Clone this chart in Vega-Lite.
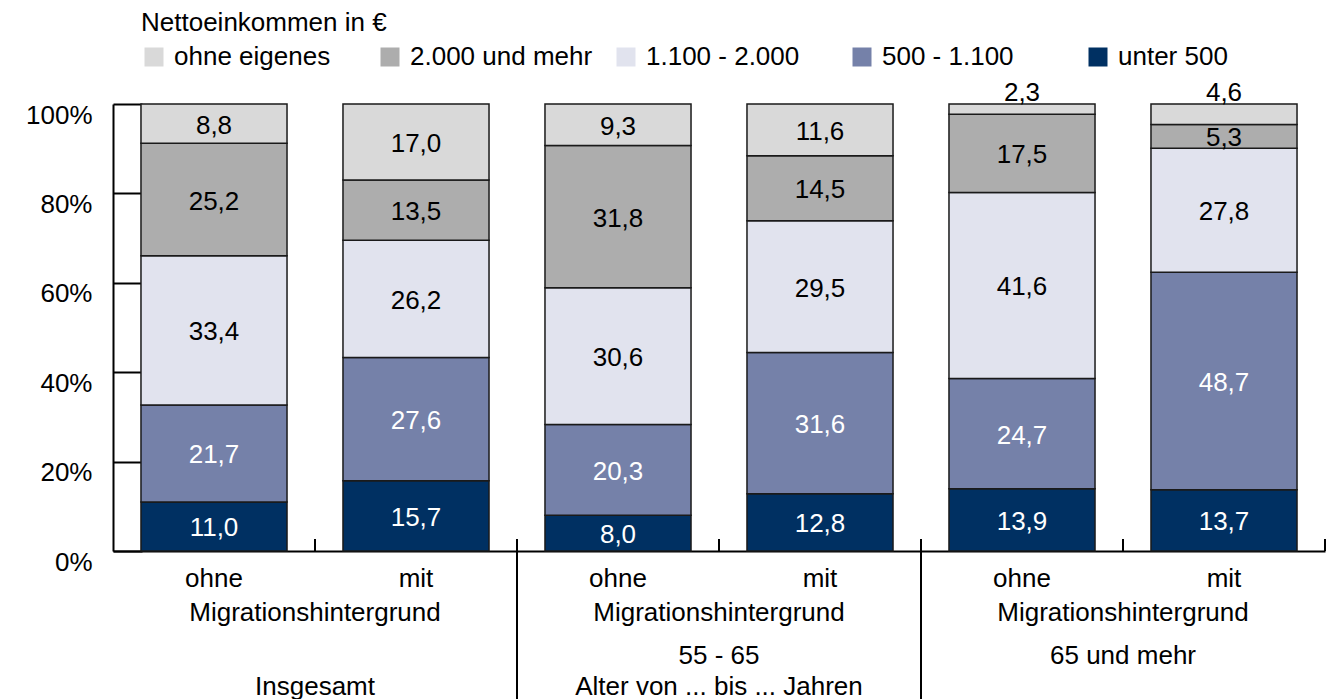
{
  "$schema": "https://vega.github.io/schema/vega-lite/v6.json",
  "width": 1212,
  "height": 447,
  "autosize": {"type": "none"},
  "padding": {"left": 113, "top": 104, "right": 13, "bottom": 148},
  "background": "#ffffff",
  "datasets": {
    "income": [
      {"group": "Insgesamt", "mig": "ohne", "cat": "unter 500", "value": 11.0},
      {"group": "Insgesamt", "mig": "ohne", "cat": "500 - 1.100", "value": 21.7},
      {"group": "Insgesamt", "mig": "ohne", "cat": "1.100 - 2.000", "value": 33.4},
      {"group": "Insgesamt", "mig": "ohne", "cat": "2.000 und mehr", "value": 25.2},
      {"group": "Insgesamt", "mig": "ohne", "cat": "ohne eigenes", "value": 8.8},
      {"group": "Insgesamt", "mig": "mit", "cat": "unter 500", "value": 15.7},
      {"group": "Insgesamt", "mig": "mit", "cat": "500 - 1.100", "value": 27.6},
      {"group": "Insgesamt", "mig": "mit", "cat": "1.100 - 2.000", "value": 26.2},
      {"group": "Insgesamt", "mig": "mit", "cat": "2.000 und mehr", "value": 13.5},
      {"group": "Insgesamt", "mig": "mit", "cat": "ohne eigenes", "value": 17.0},
      {"group": "55 - 65", "mig": "ohne", "cat": "unter 500", "value": 8.0},
      {"group": "55 - 65", "mig": "ohne", "cat": "500 - 1.100", "value": 20.3},
      {"group": "55 - 65", "mig": "ohne", "cat": "1.100 - 2.000", "value": 30.6},
      {"group": "55 - 65", "mig": "ohne", "cat": "2.000 und mehr", "value": 31.8},
      {"group": "55 - 65", "mig": "ohne", "cat": "ohne eigenes", "value": 9.3},
      {"group": "55 - 65", "mig": "mit", "cat": "unter 500", "value": 12.8},
      {"group": "55 - 65", "mig": "mit", "cat": "500 - 1.100", "value": 31.6},
      {"group": "55 - 65", "mig": "mit", "cat": "1.100 - 2.000", "value": 29.5},
      {"group": "55 - 65", "mig": "mit", "cat": "2.000 und mehr", "value": 14.5},
      {"group": "55 - 65", "mig": "mit", "cat": "ohne eigenes", "value": 11.6},
      {"group": "65 und mehr", "mig": "ohne", "cat": "unter 500", "value": 13.9},
      {"group": "65 und mehr", "mig": "ohne", "cat": "500 - 1.100", "value": 24.7},
      {"group": "65 und mehr", "mig": "ohne", "cat": "1.100 - 2.000", "value": 41.6},
      {"group": "65 und mehr", "mig": "ohne", "cat": "2.000 und mehr", "value": 17.5},
      {"group": "65 und mehr", "mig": "ohne", "cat": "ohne eigenes", "value": 2.3},
      {"group": "65 und mehr", "mig": "mit", "cat": "unter 500", "value": 13.7},
      {"group": "65 und mehr", "mig": "mit", "cat": "500 - 1.100", "value": 48.7},
      {"group": "65 und mehr", "mig": "mit", "cat": "1.100 - 2.000", "value": 27.8},
      {"group": "65 und mehr", "mig": "mit", "cat": "2.000 und mehr", "value": 5.3},
      {"group": "65 und mehr", "mig": "mit", "cat": "ohne eigenes", "value": 4.6}
    ],
    "separators": [
      {"group": "55 - 65"},
      {"group": "65 und mehr"}
    ],
    "captions": [
      {"group": "Insgesamt", "line": 1, "text": "Migrationshintergrund"},
      {"group": "55 - 65", "line": 1, "text": "Migrationshintergrund"},
      {"group": "65 und mehr", "line": 1, "text": "Migrationshintergrund"},
      {"group": "55 - 65", "line": 2, "text": "55 - 65"},
      {"group": "65 und mehr", "line": 2, "text": "65 und mehr"},
      {"group": "Insgesamt", "line": 3, "text": "Insgesamt"},
      {"group": "55 - 65", "line": 3, "text": "Alter von ... bis ... Jahren"}
    ]
  },
  "resolve": {"scale": {"x": "independent"}},
  "layer": [
    {
      "data": {"name": "income"},
      "transform": [
        {"calculate": "datum.group + '|' + datum.mig", "as": "bar"},
        {"calculate": "indexof(['unter 500', '500 - 1.100', '1.100 - 2.000', '2.000 und mehr', 'ohne eigenes'], datum.cat)", "as": "ord"},
        {"stack": "value", "groupby": ["bar"], "sort": [{"field": "ord", "order": "ascending"}], "offset": "normalize", "as": ["y0", "y1"]}
      ],
      "mark": {"type": "bar", "stroke": "#1a1a1a", "strokeWidth": 1.5},
      "encoding": {
        "x": {
          "field": "bar", "type": "nominal",
          "scale": {
            "domain": ["Insgesamt|ohne", "Insgesamt|mit", "55 - 65|ohne", "55 - 65|mit", "65 und mehr|ohne", "65 und mehr|mit"],
            "paddingInner": 0.277, "paddingOuter": 0.1385
          },
          "axis": {
            "title": null,
            "labelExpr": "split(datum.label, '|')[1]",
            "labelAngle": 0,
            "labelFontSize": 26,
            "labelColor": "#000000",
            "labelPadding": 14,
            "ticks": false,
            "domainColor": "#000000",
            "domainWidth": 2
          }
        },
        "y": {
          "field": "y0", "type": "quantitative",
          "scale": {"domain": [0, 1], "nice": false},
          "axis": {
            "title": null,
            "values": [0, 0.2, 0.4, 0.6, 0.8, 1],
            "format": ".0%",
            "grid": false,
            "labelFontSize": 26,
            "labelColor": "#000000",
            "labelPadding": 50,
            "labelOffset": 11,
            "labelFlush": false,
            "ticks": true,
            "tickSize": -29,
            "tickWidth": 2,
            "tickColor": "#000000",
            "domainColor": "#000000",
            "domainWidth": 2
          }
        },
        "y2": {"field": "y1"},
        "color": {
          "field": "cat", "type": "nominal",
          "scale": {
            "domain": ["ohne eigenes", "2.000 und mehr", "1.100 - 2.000", "500 - 1.100", "unter 500"],
            "range": ["#d9d9d9", "#adadad", "#e1e3ee", "#7581a9", "#003062"]
          },
          "legend": {
            "title": "Nettoeinkommen in €",
            "orient": "none",
            "legendX": 28,
            "legendY": -94,
            "direction": "horizontal",
            "columns": 5,
            "gridAlign": "all",
            "columnPadding": 20,
            "titleFontSize": 26,
            "titleFontWeight": "normal",
            "titleColor": "#000000",
            "titlePadding": 8,
            "titleLimit": 0,
            "labelFontSize": 26,
            "labelColor": "#000000",
            "labelOffset": 7,
            "labelLimit": 0,
            "symbolType": "square",
            "symbolSize": 361,
            "symbolStrokeWidth": 0,
            "symbolOpacity": 1
          }
        }
      }
    },
    {
      "data": {"name": "income"},
      "transform": [
        {"filter": "datum.cat === 'unter 500'"},
        {"calculate": "datum.group + '|' + datum.mig", "as": "bar"}
      ],
      "mark": {"type": "rule", "color": "#000000", "strokeWidth": 2},
      "encoding": {
        "x": {
          "field": "bar", "type": "nominal", "bandPosition": 1,
          "scale": {
            "domain": ["Insgesamt|ohne", "Insgesamt|mit", "55 - 65|ohne", "55 - 65|mit", "65 und mehr|ohne", "65 und mehr|mit"],
            "paddingInner": 0, "paddingOuter": 0
          },
          "axis": null
        },
        "y": {"datum": 0},
        "y2": {"datum": 0.027}
      }
    },
    {
      "data": {"name": "income"},
      "transform": [
        {"calculate": "datum.group + '|' + datum.mig", "as": "bar"},
        {"calculate": "indexof(['unter 500', '500 - 1.100', '1.100 - 2.000', '2.000 und mehr', 'ohne eigenes'], datum.cat)", "as": "ord"},
        {"stack": "value", "groupby": ["bar"], "sort": [{"field": "ord", "order": "ascending"}], "offset": "normalize", "as": ["y0", "y1"]},
        {"calculate": "(datum.y0 + datum.y1) / 2", "as": "ymid"},
        {"calculate": "replace(format(datum.value, '.1f'), '.', ',')", "as": "label"},
        {"filter": "datum.value >= 5"}
      ],
      "mark": {"type": "text", "fontSize": 26, "baseline": "middle", "align": "center", "dy": 2},
      "encoding": {
        "x": {
          "field": "bar", "type": "nominal",
          "scale": {
            "domain": ["Insgesamt|ohne", "Insgesamt|mit", "55 - 65|ohne", "55 - 65|mit", "65 und mehr|ohne", "65 und mehr|mit"],
            "paddingInner": 0.277, "paddingOuter": 0.1385
          },
          "axis": null
        },
        "y": {"field": "ymid", "type": "quantitative"},
        "text": {"field": "label"},
        "color": {
          "condition": {"test": "datum.cat === 'unter 500' || datum.cat === '500 - 1.100'", "value": "#ffffff"},
          "value": "#000000"
        }
      }
    },
    {
      "data": {"name": "income"},
      "transform": [
        {"calculate": "datum.group + '|' + datum.mig", "as": "bar"},
        {"calculate": "indexof(['unter 500', '500 - 1.100', '1.100 - 2.000', '2.000 und mehr', 'ohne eigenes'], datum.cat)", "as": "ord"},
        {"stack": "value", "groupby": ["bar"], "sort": [{"field": "ord", "order": "ascending"}], "offset": "normalize", "as": ["y0", "y1"]},
        {"calculate": "replace(format(datum.value, '.1f'), '.', ',')", "as": "label"},
        {"filter": "datum.value < 5"}
      ],
      "mark": {"type": "text", "fontSize": 26, "baseline": "middle", "align": "center", "dy": -11, "color": "#000000"},
      "encoding": {
        "x": {
          "field": "bar", "type": "nominal",
          "scale": {
            "domain": ["Insgesamt|ohne", "Insgesamt|mit", "55 - 65|ohne", "55 - 65|mit", "65 und mehr|ohne", "65 und mehr|mit"],
            "paddingInner": 0.277, "paddingOuter": 0.1385
          },
          "axis": null
        },
        "y": {"field": "y1", "type": "quantitative"},
        "text": {"field": "label"}
      }
    },
    {
      "data": {"name": "separators"},
      "mark": {"type": "rule", "color": "#000000", "strokeWidth": 2},
      "encoding": {
        "x": {
          "field": "group", "type": "nominal", "bandPosition": 0,
          "scale": {"domain": ["Insgesamt", "55 - 65", "65 und mehr"], "paddingInner": 0, "paddingOuter": 0},
          "axis": null
        },
        "y": {"datum": 0.027},
        "y2": {"datum": -0.34}
      }
    },
    {
      "data": {"name": "captions"},
      "transform": [{"filter": "datum.line === 1"}],
      "mark": {"type": "text", "fontSize": 26, "baseline": "middle", "align": "center", "dy": 62, "color": "#000000"},
      "encoding": {
        "x": {
          "field": "group", "type": "nominal",
          "scale": {"domain": ["Insgesamt", "55 - 65", "65 und mehr"], "paddingInner": 0, "paddingOuter": 0},
          "axis": null
        },
        "y": {"datum": 0},
        "text": {"field": "text"}
      }
    },
    {
      "data": {"name": "captions"},
      "transform": [{"filter": "datum.line === 2"}],
      "mark": {"type": "text", "fontSize": 26, "baseline": "middle", "align": "center", "dy": 105, "color": "#000000"},
      "encoding": {
        "x": {
          "field": "group", "type": "nominal",
          "scale": {"domain": ["Insgesamt", "55 - 65", "65 und mehr"], "paddingInner": 0, "paddingOuter": 0},
          "axis": null
        },
        "y": {"datum": 0},
        "text": {"field": "text"}
      }
    },
    {
      "data": {"name": "captions"},
      "transform": [{"filter": "datum.line === 3"}],
      "mark": {"type": "text", "fontSize": 26, "baseline": "middle", "align": "center", "dy": 136, "color": "#000000"},
      "encoding": {
        "x": {
          "field": "group", "type": "nominal",
          "scale": {"domain": ["Insgesamt", "55 - 65", "65 und mehr"], "paddingInner": 0, "paddingOuter": 0},
          "axis": null
        },
        "y": {"datum": 0},
        "text": {"field": "text"}
      }
    }
  ],
  "config": {
    "font": "Liberation Sans",
    "view": {"stroke": null},
    "axis": {"labelFont": "Liberation Sans"},
    "legend": {"labelFont": "Liberation Sans", "titleFont": "Liberation Sans"}
  }
}
